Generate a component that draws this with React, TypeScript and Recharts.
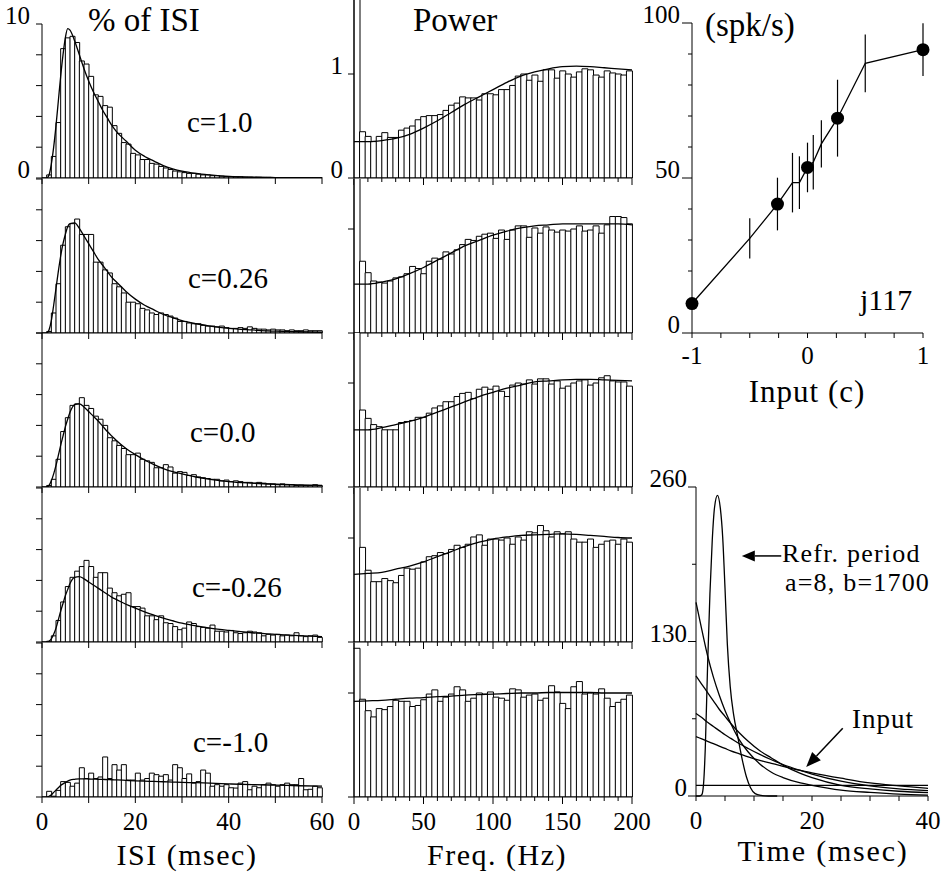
import React from "react";
import {
  ComposedChart,
  Bar,
  Line,
  XAxis,
  YAxis,
  ErrorBar,
  ReferenceLine,
} from "recharts";

const serif = '"Liberation Serif", "Times New Roman", serif';
const ink = "#000";

// ISI histograms: % of ISI in 1 ms bins, 0-60 ms
const isiC10 = [0, 0.2, 1.4, 3.6, 8.4, 9.1, 9.2, 8.8, 7.6, 7.4, 6.6, 5.4, 5.3, 4.7, 4.6, 3.4, 2.9, 2.3, 2.2, 1.6, 1.5, 1.2, 1.2, 0.95, 0.9, 0.75, 0.65, 0.55, 0.45, 0.4, 0.35, 0.3, 0.3, 0.25, 0.2, 0.2, 0.15, 0.15, 0.12, 0.1, 0.1, 0.08, 0.08, 0.06, 0.06, 0.05, 0.05, 0.04, 0.04, 0.03, 0.03, 0.03, 0.02, 0.02, 0.02, 0.02, 0.01, 0.01, 0.01, 0.01];
const isiC026 = [0, 0.1, 1.3, 3.2, 5.7, 6.9, 7.1, 7.4, 6.4, 6.4, 6.4, 4.6, 4.6, 4.1, 3.9, 3.2, 3.0, 2.6, 2.0, 2.0, 1.9, 1.6, 1.5, 1.3, 1.2, 1.3, 1.2, 1.1, 0.97, 0.75, 0.75, 0.65, 0.6, 0.6, 0.5, 0.45, 0.45, 0.4, 0.45, 0.35, 0.3, 0.3, 0.35, 0.3, 0.4, 0.3, 0.25, 0.25, 0.2, 0.25, 0.2, 0.2, 0.15, 0.2, 0.15, 0.15, 0.2, 0.15, 0.15, 0.15];
const isiC0 = [0, 0.1, 0.5, 1.8, 3.6, 4.5, 5.3, 5.4, 5.8, 5.3, 5.1, 4.6, 4.4, 4.0, 3.2, 3.0, 2.7, 2.5, 2.1, 2.1, 2.2, 1.8, 1.7, 1.6, 1.25, 1.25, 1.45, 1.3, 0.9, 1.0, 0.95, 0.75, 0.8, 0.65, 0.6, 0.55, 0.5, 0.5, 0.4, 0.45, 0.35, 0.4, 0.35, 0.3, 0.3, 0.25, 0.3, 0.25, 0.2, 0.2, 0.15, 0.2, 0.15, 0.15, 0.1, 0.12, 0.1, 0.1, 0.15, 0.1];
const isiCm026 = [0, 0.05, 0.4, 1.4, 2.6, 3.6, 4.2, 4.6, 4.9, 5.3, 4.9, 4.2, 4.5, 4.5, 3.5, 3.2, 3.0, 3.1, 3.2, 2.3, 2.3, 2.2, 1.7, 1.7, 1.45, 1.7, 1.25, 1.2, 1.0, 0.8, 0.9, 1.3, 1.2, 1.0, 0.95, 0.9, 1.1, 0.7, 0.7, 0.65, 0.75, 0.6, 0.55, 0.6, 0.7, 0.65, 0.6, 0.4, 0.5, 0.45, 0.5, 0.4, 0.45, 0.4, 0.6, 0.4, 0.35, 0.4, 0.45, 0.3];
const isiCm10 = [0, 0.37, 0.05, 0.43, 1.0, 0.95, 0.7, 0.9, 1.9, 1.2, 1.55, 1.2, 1.3, 2.6, 1.2, 2.1, 1.75, 2.1, 1.1, 1.1, 1.55, 1.1, 1.2, 1.55, 1.45, 1.35, 1.45, 1.1, 2.1, 1.9, 1.2, 1.5, 0.9, 1.0, 1.75, 1.55, 0.7, 0.8, 0.7, 0.8, 0.6, 0.58, 0.9, 1.0, 0.47, 0.7, 0.6, 0.8, 0.9, 0.8, 0.7, 0.8, 0.9, 0.8, 0.8, 1.2, 0.47, 0.5, 0.7, 0.6];

// fitted ISI densities, sampled at these times (ms)
const isiFitT = [0, 1, 1.5, 2, 2.5, 3, 3.5, 4, 4.5, 5, 5.5, 6, 7, 8, 9, 10, 11, 12, 13, 14, 15, 16, 18, 20, 22, 24, 26, 28, 30, 33, 36, 40, 45, 50, 55, 60];
const isiFitC10 = [0, 0, 0.2, 0.9, 2.0, 3.4, 5.0, 6.6, 8.0, 9.1, 9.7, 9.6, 8.9, 8.0, 7.1, 6.3, 5.6, 5.0, 4.4, 3.9, 3.4, 3.0, 2.4, 1.8, 1.4, 1.1, 0.8, 0.6, 0.45, 0.3, 0.2, 0.1, 0.05, 0.03, 0.02, 0.01];
const isiFitC026 = [0, 0, 0.2, 0.8, 1.8, 2.9, 4.0, 5.0, 5.8, 6.4, 6.9, 7.1, 7.15, 6.8, 6.3, 5.8, 5.3, 4.8, 4.4, 4.0, 3.6, 3.3, 2.7, 2.2, 1.8, 1.5, 1.2, 1.0, 0.8, 0.6, 0.45, 0.3, 0.2, 0.12, 0.08, 0.05];
const isiFitC0 = [0, 0, 0.1, 0.4, 0.85, 1.4, 2.05, 2.7, 3.3, 3.9, 4.4, 4.85, 5.35, 5.4, 5.2, 4.9, 4.6, 4.3, 3.95, 3.6, 3.3, 3.0, 2.5, 2.1, 1.75, 1.45, 1.2, 1.0, 0.85, 0.65, 0.5, 0.35, 0.25, 0.18, 0.13, 0.1];
const isiFitCm026 = [0, 0, 0.05, 0.2, 0.5, 0.9, 1.45, 2.0, 2.5, 3.0, 3.4, 3.8, 4.2, 4.25, 4.1, 3.9, 3.7, 3.5, 3.3, 3.1, 2.9, 2.75, 2.45, 2.2, 1.95, 1.75, 1.55, 1.38, 1.22, 1.05, 0.9, 0.75, 0.6, 0.5, 0.42, 0.35];
const isiFitCm10 = [0, 0, 0.05, 0.15, 0.3, 0.45, 0.6, 0.75, 0.85, 0.95, 1.03, 1.1, 1.15, 1.18, 1.18, 1.17, 1.16, 1.15, 1.14, 1.13, 1.12, 1.11, 1.08, 1.05, 1.03, 1.01, 0.99, 0.97, 0.95, 0.93, 0.9, 0.85, 0.8, 0.77, 0.73, 0.7];

// power spectra: 4 Hz bins, 0-200 Hz (first bin runs off scale)
const powC10 = [2.5, 0.445, 0.4, 0.35, 0.4, 0.436, 0.39, 0.39, 0.46, 0.48, 0.5, 0.56, 0.59, 0.6, 0.6, 0.61, 0.65, 0.7, 0.72, 0.78, 0.77, 0.77, 0.75, 0.81, 0.81, 0.8, 0.85, 0.85, 0.89, 0.98, 1.0, 0.94, 0.99, 0.93, 1.04, 1.04, 0.96, 1.03, 1.0, 0.97, 1.02, 1.05, 1.04, 0.99, 0.97, 1.03, 1.01, 1.0, 0.99, 1.03];
const powC026 = [2.5, 0.69, 0.58, 0.5, 0.49, 0.48, 0.5, 0.53, 0.54, 0.57, 0.64, 0.62, 0.57, 0.69, 0.72, 0.71, 0.78, 0.76, 0.8, 0.85, 0.9, 0.89, 0.93, 0.95, 0.96, 0.91, 0.99, 0.9, 0.99, 1.03, 1.03, 0.92, 1.01, 0.96, 1.02, 0.99, 0.97, 0.99, 0.98, 1.0, 1.03, 0.98, 0.99, 1.03, 0.96, 1.04, 1.12, 1.12, 1.11, 1.05];
const powC0 = [2.5, 0.74, 0.66, 0.6, 0.58, 0.55, 0.55, 0.55, 0.62, 0.63, 0.64, 0.67, 0.67, 0.71, 0.76, 0.78, 0.82, 0.82, 0.87, 0.9, 0.91, 0.85, 0.94, 0.96, 0.94, 0.97, 0.92, 0.87, 0.98, 1.0, 0.99, 1.03, 0.99, 1.04, 1.04, 0.99, 1.02, 0.95, 0.97, 1.0, 1.02, 1.03, 0.98, 1.0, 1.05, 1.07, 1.02, 1.01, 1.01, 0.97];
const powCm026 = [2.5, 0.91, 0.69, 0.58, 0.58, 0.61, 0.59, 0.57, 0.64, 0.71, 0.7, 0.71, 0.77, 0.82, 0.83, 0.86, 0.85, 0.89, 0.93, 0.91, 0.94, 1.01, 1.03, 0.93, 0.99, 0.99, 0.98, 1.0, 0.94, 1.01, 0.98, 1.06, 1.05, 1.12, 1.07, 1.01, 1.06, 1.04, 1.06, 0.99, 0.96, 0.96, 0.99, 0.91, 0.94, 0.97, 0.98, 0.94, 0.99, 0.96];
const powCm10 = [1.43, 0.94, 0.83, 0.77, 0.85, 0.84, 0.87, 0.93, 0.92, 0.92, 0.87, 0.88, 0.935, 0.99, 1.03, 0.92, 0.96, 0.99, 1.06, 1.03, 0.92, 0.95, 1.0, 0.99, 1.01, 0.96, 0.95, 0.93, 1.04, 1.03, 0.96, 0.98, 0.99, 0.93, 0.95, 1.07, 1.01, 0.9, 0.85, 1.06, 1.11, 0.99, 1.0, 0.99, 1.04, 0.95, 0.87, 0.91, 0.94, 0.98];

const powFitF = [0, 10, 20, 30, 40, 50, 60, 70, 80, 90, 100, 110, 120, 130, 140, 150, 160, 170, 180, 190, 200];
const powFitC10 = [0.35, 0.35, 0.36, 0.38, 0.42, 0.48, 0.55, 0.63, 0.71, 0.78, 0.85, 0.92, 0.98, 1.02, 1.05, 1.07, 1.075, 1.07, 1.06, 1.05, 1.04];
const powFitC026 = [0.47, 0.47, 0.49, 0.52, 0.57, 0.63, 0.7, 0.77, 0.84, 0.89, 0.94, 0.98, 1.01, 1.03, 1.04, 1.05, 1.05, 1.05, 1.05, 1.05, 1.04];
const powFitC0 = [0.55, 0.55, 0.57, 0.6, 0.63, 0.67, 0.72, 0.77, 0.82, 0.87, 0.91, 0.95, 0.98, 1.01, 1.02, 1.03, 1.035, 1.035, 1.03, 1.025, 1.02];
const powFitCm026 = [0.65, 0.66, 0.67, 0.7, 0.73, 0.77, 0.82, 0.87, 0.92, 0.96, 0.99, 1.01, 1.025, 1.03, 1.035, 1.04, 1.035, 1.025, 1.015, 1.005, 1.0];
const powFitCm10 = [0.92, 0.925, 0.93, 0.94, 0.95, 0.955, 0.965, 0.97, 0.98, 0.985, 0.99, 0.995, 1.0, 1.0, 1.005, 1.005, 1.005, 1.005, 1.0, 1.0, 1.0];

const conditionLabels = ["c=1.0", "c=0.26", "c=0.0", "c=-0.26", "c=-1.0"];
const isiSets = [isiC10, isiC026, isiC0, isiCm026, isiCm10];
const isiFits = [isiFitC10, isiFitC026, isiFitC0, isiFitCm026, isiFitCm10];
const powSets = [powC10, powC026, powC0, powCm026, powCm10];
const powFits = [powFitC10, powFitC026, powFitC0, powFitCm026, powFitCm10];

// firing rate (spk/s) against input c, with spread
const rateInput = [-1, -0.5, -0.26, -0.13, -0.07, 0, 0.05, 0.12, 0.26, 0.5, 1];
const rateMean = [9.5, 30.5, 41.6, 48.5, 48.5, 53.4, 55.1, 61, 69.3, 87, 91.4];
const rateErr = [1.5, 6.5, 8.5, 9.6, 8.5, 8, 8.8, 7.6, 12.4, 9.3, 8.5];
const rateMarked = [-1, -0.26, 0, 0.26, 1];

// refractory function (a=8, b=1700) and input currents over time (ms)
const refrT = [0, 0.6, 1.0, 1.3, 1.6, 2.0, 2.4, 2.8, 3.2, 3.7, 4.2, 4.6, 5.0, 5.4, 5.9, 6.5, 7.2, 8.0, 8.7, 9.4, 10.2, 11.2, 12.5, 14];
const refrV = [0, 0, 1, 10, 40, 110, 170, 215, 243, 253, 242, 218, 175, 128, 92, 68, 50, 30, 16, 7, 2, 0.5, 0, 0];
const inputT = [0, 1, 2, 3, 4, 5, 6, 7.5, 9, 11, 13, 15, 18, 20, 25, 30, 35, 40];
const inputC10 = [163, 140, 118, 100, 85, 72, 61, 47, 37, 27, 20, 15.5, 11, 9, 5, 3, 1.5, 0.8];
const inputC026 = [101, 94, 87, 80, 73, 67, 61, 53, 46, 38, 32, 26, 19, 15.4, 9, 6, 4, 2.8];
const inputC0 = [69.5, 66, 62, 58.5, 55, 51.5, 48.5, 44, 40, 35, 30.5, 26.5, 21.5, 18.5, 12.5, 8.5, 6, 4.5];
const inputCm026 = [50, 48, 46, 44, 42, 40, 38, 35.5, 33, 30, 27.5, 25, 21.5, 19.5, 15, 11, 8.5, 6.4];
const inputCm10 = 9;

// annotation arrows in data units of the time panel
const refrArrow = [{ x: 14.7, y: 202 }, { x: 7.9, y: 202 }];
const inputArrow = [{ x: 25.3, y: 57 }, { x: 19, y: 24.4 }];

const AXIS_W = 50;
const M_TOP = 32;
const M_RIGHT = 24;
const X_H = 56;

const xTick = (len: (v: number) => number, labels: number[], gap: number) => (p: any) => {
  const v = p.payload.value;
  return (
    <g>
      <line x1={p.x} x2={p.x} y1={p.y} y2={p.y + len(v)} stroke={ink} />
      {labels.includes(v) && (
        <text x={p.x} y={p.y + gap} textAnchor="middle" fontFamily={serif} fontSize={25} fill={ink}>
          {String(v)}
        </text>
      )}
    </g>
  );
};

const yTick = (len: (v: number) => number, labels: number[], gap: number) => (p: any) => {
  const v = p.payload.value;
  return (
    <g>
      <line x1={p.x - len(v)} x2={p.x} y1={p.y} y2={p.y} stroke={ink} />
      {labels.includes(v) && (
        <text x={p.x - gap} y={p.y} textAnchor="end" fontFamily={serif} fontSize={25} fill={ink}>
          {String(v)}
        </text>
      )}
    </g>
  );
};

function HistPanel(props: any) {
  const { bins, fitX, fitY, xMax, yMax, left, top, w, h, xTicks, xLabels, xLen, yTicks, yLabels, yLen, yGap } = props;
  const data = bins.map((v: number, i: number) => ({ bin: i, v }));
  const fit = fitX.map((x: number, i: number) => ({ x, y: fitY[i] }));
  return (
    <div style={{ position: "absolute", left: left - AXIS_W, top: top - M_TOP }}>
      <ComposedChart
        width={AXIS_W + w + M_RIGHT}
        height={M_TOP + h + X_H}
        data={data}
        margin={{ top: M_TOP, right: M_RIGHT, bottom: 0, left: 0 }}
        barCategoryGap={0}
        barGap={0}
      >
        <XAxis xAxisId="cat" dataKey="bin" type="category" hide height={0} />
        <XAxis
          xAxisId="num"
          dataKey="x"
          type="number"
          domain={[0, xMax]}
          ticks={xTicks}
          interval={0}
          allowDataOverflow
          height={X_H}
          tickSize={0}
          tickMargin={0}
          tickLine={false}
          axisLine={{ stroke: ink }}
          tick={xTick(xLen, xLabels, 33)}
        />
        <YAxis
          type="number"
          domain={[0, yMax]}
          ticks={yTicks}
          interval={0}
          allowDataOverflow
          width={AXIS_W}
          tickSize={0}
          tickMargin={0}
          tickLine={false}
          axisLine={{ stroke: ink }}
          tick={yTick(yLen, yLabels, yGap)}
        />
        <Bar xAxisId="cat" dataKey="v" fill="#fff" stroke={ink} strokeWidth={1} isAnimationActive={false} />
        <Line
          xAxisId="num"
          data={fit}
          dataKey="y"
          type="monotone"
          stroke={ink}
          strokeWidth={1.3}
          dot={false}
          isAnimationActive={false}
        />
      </ComposedChart>
    </div>
  );
}

const isiBase = [178, 333, 487, 642, 797];

const rateDot = (p: any) =>
  rateMarked.includes(p.payload.c) ? (
    <circle key={`d${p.index}`} cx={p.cx} cy={p.cy} r={6.5} fill={ink} />
  ) : (
    <g key={`d${p.index}`} />
  );

const arrowShape = (head: number, halfW: number) => (p: any) => {
  const { x1, y1, x2, y2 } = p;
  const a = Math.atan2(y2 - y1, x2 - x1);
  const bx = x2 - head * Math.cos(a);
  const by = y2 - head * Math.sin(a);
  const nx = -Math.sin(a) * halfW;
  const ny = Math.cos(a) * halfW;
  return (
    <g>
      <line x1={x1} y1={y1} x2={bx} y2={by} stroke={ink} strokeWidth={1.5} />
      <polygon points={`${x2},${y2} ${bx + nx},${by + ny} ${bx - nx},${by - ny}`} fill={ink} />
    </g>
  );
};

function RatePanel() {
  const data = rateInput.map((c, i) => ({ c, rate: rateMean[i], err: rateErr[i] }));
  const left = 692, top = 23, w = 231, h = 310;
  return (
    <div style={{ position: "absolute", left: left - AXIS_W, top: top - M_TOP }}>
      <ComposedChart width={AXIS_W + w + M_RIGHT} height={M_TOP + h + X_H} data={data} margin={{ top: M_TOP, right: M_RIGHT, bottom: 0, left: 0 }}>
        <XAxis
          dataKey="c"
          type="number"
          domain={[-1, 1]}
          ticks={[-1, -0.75, -0.5, -0.25, 0, 0.25, 0.5, 0.75, 1]}
          interval={0}
          height={X_H}
          tickSize={0}
          tickMargin={0}
          tickLine={false}
          axisLine={{ stroke: ink }}
          tick={xTick(() => 5, [-1, 0, 1], 31)}
        />
        <YAxis
          type="number"
          domain={[0, 100]}
          ticks={[0, 10, 20, 30, 40, 50, 60, 70, 80, 90, 100]}
          interval={0}
          width={AXIS_W}
          tickSize={0}
          tickMargin={0}
          tickLine={false}
          axisLine={{ stroke: ink }}
          tick={yTick((v) => (v % 50 === 0 ? 10 : 4), [0, 50, 100], 12)}
        />
        <Line dataKey="rate" type="linear" stroke={ink} strokeWidth={1.3} dot={rateDot} isAnimationActive={false}>
          <ErrorBar dataKey="err" width={0} stroke={ink} strokeWidth={1.2} direction="y" />
        </Line>
      </ComposedChart>
    </div>
  );
}

function TimePanel() {
  const left = 696, top = 487, w = 232, h = 309;
  const curve = (vals: number[]) => inputT.map((t, i) => ({ t, v: vals[i] }));
  const refr = refrT.map((t, i) => ({ t, v: refrV[i] }));
  const inputs = [inputC10, inputC026, inputC0, inputCm026];
  return (
    <div style={{ position: "absolute", left: left - AXIS_W, top: top - M_TOP }}>
      <ComposedChart width={AXIS_W + w + M_RIGHT} height={M_TOP + h + X_H} margin={{ top: M_TOP, right: M_RIGHT, bottom: 0, left: 0 }}>
        <XAxis
          dataKey="t"
          type="number"
          domain={[0, 40]}
          ticks={[0, 5, 10, 15, 20, 25, 30, 35, 40]}
          interval={0}
          height={X_H}
          tickSize={0}
          tickMargin={0}
          tickLine={false}
          axisLine={{ stroke: ink }}
          tick={xTick(() => 5, [0, 20, 40], 33)}
        />
        <YAxis
          type="number"
          domain={[0, 260]}
          ticks={[0, 65, 130, 195, 260]}
          interval={0}
          width={AXIS_W}
          tickSize={0}
          tickMargin={0}
          tickLine={false}
          axisLine={{ stroke: ink }}
          tick={yTick((v) => (v % 130 === 0 ? 8 : 4), [0, 130, 260], 9)}
        />
        <ReferenceLine y={inputCm10} stroke={ink} strokeWidth={1.2} />
        {inputs.map((vals, i) => (
          <Line key={i} data={curve(vals)} dataKey="v" type="monotone" stroke={ink} strokeWidth={1.3} dot={false} isAnimationActive={false} />
        ))}
        <Line data={refr} dataKey="v" type="monotone" stroke={ink} strokeWidth={1.3} dot={false} isAnimationActive={false} />
        <ReferenceLine segment={refrArrow} shape={arrowShape(13, 5.5)} />
        <ReferenceLine segment={inputArrow} shape={arrowShape(15, 6)} />
      </ComposedChart>
    </div>
  );
}

const texts: { s: string; x: number; y: number; size: number; anchor?: string; ls?: number }[] = [
  { s: "% of ISI", x: 88, y: 31, size: 33 },
  { s: "Power", x: 413, y: 31, size: 33 },
  { s: "(spk/s)", x: 705, y: 36, size: 33 },
  { s: "j117", x: 860, y: 310, size: 30 },
  { s: "Input (c)", x: 807, y: 402, size: 31, anchor: "middle", ls: 1 },
  { s: "ISI (msec)", x: 187, y: 865, size: 30, anchor: "middle", ls: 1.5 },
  { s: "Freq. (Hz)", x: 497, y: 865, size: 30, anchor: "middle", ls: 1.5 },
  { s: "Time (msec)", x: 823, y: 861, size: 30, anchor: "middle", ls: 1.8 },
  { s: "Refr. period", x: 782, y: 562, size: 26, ls: 1.2 },
  { s: "a=8, b=1700", x: 785, y: 591, size: 26, ls: 1.2 },
  { s: "Input", x: 852, y: 728, size: 27, ls: 1 },
];
const condPos = [
  { x: 187, y: 132 },
  { x: 188, y: 288 },
  { x: 190, y: 442 },
  { x: 192, y: 597 },
  { x: 193, y: 752 },
];

export default function App() {
  return (
    <div style={{ position: "absolute", left: 0, top: 0, width: 952, height: 882, background: "#fff", overflow: "hidden" }}>
      {isiSets.map((bins, i) => (
        <HistPanel
          key={`isi${i}`}
          bins={bins}
          fitX={isiFitT}
          fitY={isiFits[i]}
          xMax={60}
          yMax={10}
          left={42}
          top={isiBase[i] - 154}
          w={280}
          h={154}
          xTicks={[0, 10, 20, 30, 40, 50, 60]}
          xLabels={i === 4 ? [0, 20, 40, 60] : []}
          xLen={() => 6}
          yTicks={[0, 2, 4, 6, 8, 10]}
          yLabels={i === 0 ? [0, 10] : []}
          yLen={() => 6}
          yGap={12}
        />
      ))}
      {powSets.map((bins, i) => {
        const h = i === 0 ? isiBase[0] : 154;
        return (
          <HistPanel
            key={`pow${i}`}
            bins={bins}
            fitX={powFitF}
            fitY={powFits[i]}
            xMax={200}
            yMax={h / 104}
            left={354}
            top={isiBase[i] - h}
            w={278}
            h={h}
            xTicks={[0, 10, 20, 30, 40, 50, 60, 70, 80, 90, 100, 110, 120, 130, 140, 150, 160, 170, 180, 190, 200]}
            xLabels={i === 4 ? [0, 50, 100, 150, 200] : []}
            xLen={(v: number) => (v % 50 === 0 ? 7 : 4)}
            yTicks={[0, 1]}
            yLabels={i === 0 ? [0, 1] : []}
            yLen={() => 6}
            yGap={11}
          />
        );
      })}
      <RatePanel />
      <TimePanel />
      <svg width={952} height={882} style={{ position: "absolute", left: 0, top: 0, pointerEvents: "none" }}>
        {texts.map((t) => (
          <text
            key={t.s}
            x={t.x}
            y={t.y}
            fontFamily={serif}
            fontSize={t.size}
            textAnchor={(t.anchor as any) || "start"}
            letterSpacing={t.ls || 0}
            fill={ink}
          >
            {t.s}
          </text>
        ))}
        {conditionLabels.map((s, i) => (
          <text key={s} x={condPos[i].x} y={condPos[i].y} fontFamily={serif} fontSize={29} fill={ink}>
            {s}
          </text>
        ))}
      </svg>
    </div>
  );
}
